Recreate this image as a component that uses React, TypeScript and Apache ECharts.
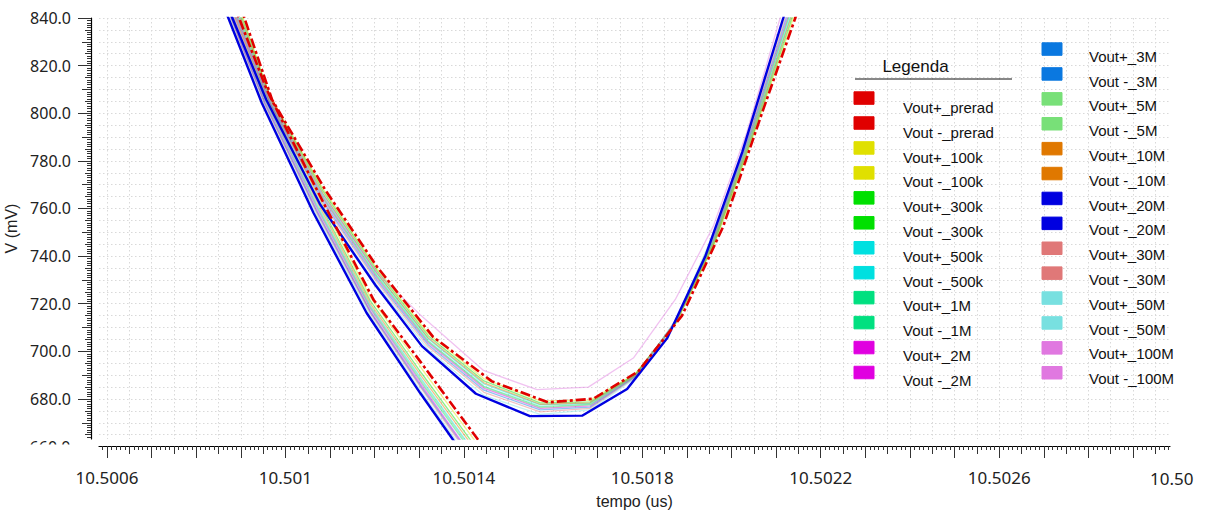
import React, { useEffect, useRef } from 'react';
import * as echarts from 'echarts';

// ---------- categories / labels ----------
const SUFFIXES = ['prerad', '100k', '300k', '500k', '1M', '2M', '3M', '5M', '10M', '20M', '30M', '50M', '100M'];
const SERIES_COLORS = ['#e00000', '#e0e000', '#00e000', '#00e0e0', '#00e080', '#e000e0', '#0a78e0', '#78e078', '#e07800', '#0000e0', '#e07878', '#78e0e0', '#e078e0'];

const X_LABELS = [10.5006, 10.501, 10.5014, 10.5018, 10.5022, 10.5026];
const Y_LABELS = [680, 700, 720, 740, 760, 780, 800, 820, 840];
const Y_MED = [670, 690, 710, 730, 750, 770, 790, 810, 830];
const X_MIN = 10.500582;
const X_MAX = 10.502983;
const Y_MIN = 663.2;
const Y_MAX = 840;

// ---------- series values (tempo in us, V in mV) ----------
const PLUS_PRERAD = [[10.500883, 854.0], [10.500908, 840.0], [10.50097, 805.7], [10.501089, 767.9], [10.501205, 735.6], [10.501331, 706.1], [10.501463, 687.4], [10.501589, 678.6], [10.50169, 680.1], [10.501791, 691.6], [10.501889, 715.0], [10.501981, 752.3], [10.502071, 801.5], [10.502143, 840.0], [10.502165, 854.0]];
const MINUS_PRERAD = [[10.500867, 854.0], [10.500896, 840.0], [10.500958, 809.9], [10.501074, 766.5], [10.501197, 721.8], [10.501302, 695.8], [10.501429, 663.6], [10.501481, 650.3]];

const PLUS_20M = [[10.500849, 854.0], [10.500881, 840.0], [10.500957, 805.7], [10.501078, 761.6], [10.501201, 728.0], [10.501306, 702.2], [10.501427, 682.2], [10.501548, 672.8], [10.501665, 673.0], [10.501766, 684.2], [10.501856, 705.6], [10.501941, 739.8], [10.502024, 783.7], [10.502116, 840.0], [10.502136, 854.0]];
const MINUS_20M = [[10.500842, 854.0], [10.500872, 840.0], [10.500947, 804.3], [10.501063, 758.1], [10.501182, 716.1], [10.501302, 682.5], [10.501373, 663.6], [10.501436, 646.5]];

const PLUS_100M = [[10.500858, 854.0], [10.500889, 840.0], [10.500965, 805.7], [10.501082, 765.8], [10.501203, 733.5], [10.501302, 715.4], [10.501444, 692.0], [10.501564, 683.9], [10.501679, 685.0], [10.50178, 697.2], [10.501874, 721.8], [10.501959, 752.5], [10.502034, 791.8], [10.502109, 840.0], [10.502127, 854.0]];
const MINUS_100M = [[10.500856, 854.0], [10.500885, 840.0], [10.500961, 803.6], [10.501073, 759.5], [10.50119, 718.3], [10.501311, 684.7], [10.501383, 664.6], [10.501448, 647.8]];

// sample times shared by the thin traces
const T_U = [10.500865, 10.500898, 10.500965, 10.501084, 10.501205, 10.50132, 10.501445, 10.501571, 10.501683, 10.501784, 10.501876, 10.501963, 10.502046, 10.502131, 10.502154];
const T_F = [10.500865, 10.500898, 10.500954, 10.501069, 10.50119, 10.501306, 10.501403, 10.50147];

const V_U_100K = [862.1, 843.8, 807.4, 768.3, 734.7, 707.5, 688.5, 679.2, 679.5, 690.5, 712.0, 745.7, 789.0, 835.7, 848.9];
const V_U_300K = [860.5, 842.5, 806.9, 767.4, 733.9, 706.6, 687.6, 678.4, 678.8, 690.3, 712.2, 746.3, 789.9, 837.4, 850.8];
const V_U_500K = [858.1, 840.5, 806.0, 765.9, 732.6, 705.3, 686.3, 677.5, 678.2, 689.9, 712.5, 747.4, 791.3, 839.9, 853.6];
const V_U_1M = [856.5, 839.2, 805.4, 764.9, 731.7, 704.4, 685.3, 676.8, 677.7, 689.7, 712.7, 748.0, 792.3, 841.6, 855.5];
const V_U_2M = [854.9, 837.8, 804.8, 764.0, 730.8, 703.6, 684.5, 676.1, 677.1, 689.5, 712.8, 748.7, 793.2, 843.2, 857.4];
const V_U_3M = [853.3, 836.5, 804.3, 763.0, 729.9, 702.8, 683.7, 675.4, 676.6, 689.3, 713.0, 749.4, 794.2, 844.9, 859.3];
const V_U_5M = [855.7, 838.6, 805.2, 764.5, 731.3, 704.0, 685.0, 676.4, 677.5, 689.6, 712.8, 748.4, 792.8, 842.4, 856.5];
const V_U_10M = [858.9, 841.2, 806.3, 766.4, 733.0, 705.7, 686.8, 677.8, 678.4, 690.0, 712.4, 747.0, 790.9, 839.0, 852.7];
const V_U_30M = [851.7, 835.3, 803.8, 762.1, 729.1, 701.9, 682.8, 674.6, 676.1, 689.0, 713.2, 750.0, 795.1, 846.6, 861.3];
const V_U_50M = [849.3, 833.4, 802.9, 760.7, 727.8, 700.7, 681.5, 673.5, 675.4, 688.7, 713.5, 751.0, 796.5, 849.1, 864.1];

const V_F_100K = [853.4, 837.2, 810.2, 766.6, 722.8, 692.6, 668.0, 650.9];
const V_F_300K = [851.7, 835.5, 808.6, 764.8, 721.3, 690.6, 665.8, 648.6];
const V_F_500K = [849.4, 833.2, 806.6, 762.3, 719.2, 688.0, 662.9, 645.6];
const V_F_1M = [848.2, 832.1, 805.5, 761.0, 718.2, 686.6, 661.4, 644.1];
const V_F_2M = [847.1, 830.9, 804.5, 759.8, 717.1, 685.3, 660.0, 642.6];
const V_F_3M = [846.5, 830.3, 804.0, 759.1, 716.6, 684.6, 659.3, 641.8];
const V_F_5M = [848.8, 832.6, 806.0, 761.6, 718.7, 687.3, 662.2, 644.8];
const V_F_10M = [850.5, 834.3, 807.6, 763.5, 720.2, 689.3, 664.4, 647.1];
const V_F_30M = [845.9, 829.8, 803.5, 758.5, 716.1, 684.0, 658.5, 641.0];
const V_F_50M = [844.8, 828.6, 802.4, 757.3, 715.0, 682.6, 657.1, 639.5];

function zip(ts: number[], vs: number[]) {
  return ts.map((t, i) => [t, vs[i]]);
}

const DATA_PLUS = [
  PLUS_PRERAD, zip(T_U, V_U_100K), zip(T_U, V_U_300K), zip(T_U, V_U_500K), zip(T_U, V_U_1M),
  zip(T_U, V_U_2M), zip(T_U, V_U_3M), zip(T_U, V_U_5M), zip(T_U, V_U_10M), PLUS_20M,
  zip(T_U, V_U_30M), zip(T_U, V_U_50M), PLUS_100M,
];
const DATA_MINUS = [
  MINUS_PRERAD, zip(T_F, V_F_100K), zip(T_F, V_F_300K), zip(T_F, V_F_500K), zip(T_F, V_F_1M),
  zip(T_F, V_F_2M), zip(T_F, V_F_3M), zip(T_F, V_F_5M), zip(T_F, V_F_10M), MINUS_20M,
  zip(T_F, V_F_30M), zip(T_F, V_F_50M), MINUS_100M,
];

function buildOption() {
  // tick value lists
  const xLong: number[] = [];
  for (let k = Math.ceil(X_MIN * 1e4 - 1e-6); k <= Math.floor(X_MAX * 1e4 + 1e-6); k++) xLong.push(k / 1e4);
  const xMed: number[] = [];
  const xGrid: number[] = [];
  for (let k = Math.ceil(X_MIN * 2e4 - 1e-6); k <= Math.floor(X_MAX * 2e4 + 1e-6); k++) {
    xGrid.push(k / 2e4);
    if (k % 2 === 1) xMed.push(k / 2e4);
  }
  const yGrid: number[] = [];
  for (let v = Math.ceil(Y_MIN / 5) * 5; v <= Y_MAX; v += 5) yGrid.push(v);

  const tickLine = { color: '#333', width: 1 };
  const gridLine = { color: '#d9d9d9', width: 1, type: [1.5, 2.5] };
  const labelFont = { fontSize: 17, fontFamily: 'Noto Sans', color: '#222' };
  const nameFont = { fontSize: 16, fontFamily: 'Liberation Sans', color: '#222' };

  const commonX = { type: 'value', min: X_MIN, max: X_MAX, position: 'bottom', offset: 7 };
  const commonY = { type: 'value', min: Y_MIN, max: Y_MAX, position: 'left', offset: 8 };

  const series: any[] = [];
  SUFFIXES.forEach((s, g) => {
    const color = SERIES_COLORS[g];
    const isRed = g === 0;
    const isBlue = g === 9;
    const isPink = g === 12;
    const lineStyle = isRed
      ? { color, width: 2.6, type: [10, 3, 3, 3] }
      : isBlue
      ? { color, width: 2.4 }
      : { color, width: 1.3, opacity: isPink ? 0.45 : 0.45 };
    const z = isRed ? 6 : isBlue ? 5 : 2;
    series.push({ name: `Vout+_${s}`, type: 'line', data: DATA_PLUS[g], symbol: 'none', lineStyle, z, color });
    series.push({ name: `Vout -_${s}`, type: 'line', data: DATA_MINUS[g], symbol: 'none', lineStyle, z, color });
  });

  // legend drawn as graphic
  const graphic: any[] = [];
  const txt = (x: number, y: number, text: string, fontSize: number, align: string, fontFamily: string, z = 10) => ({
    type: 'text', x, y, z,
    style: { text, fontSize, fontFamily, fill: '#111', align, verticalAlign: 'middle', textAlign: align, textVerticalAlign: 'middle' },
  });
  graphic.push(txt(915.5, 66, 'Legenda', 17, 'center', 'Liberation Sans'));
  graphic.push({ type: 'line', z: 10, shape: { x1: 855, y1: 79, x2: 1012, y2: 79 }, style: { stroke: '#111', lineWidth: 1 } });
  const names: string[] = [];
  const cols: string[] = [];
  SUFFIXES.forEach((s, g) => {
    names.push(`Vout+_${s}`, `Vout -_${s}`);
    cols.push(SERIES_COLORS[g], SERIES_COLORS[g]);
  });
  names.forEach((n, i) => {
    const left = i < 12;
    const r = left ? i : i - 12;
    const sx = left ? 854 : 1042;
    const tx = left ? 903 : 1089;
    const sy = left ? 91.8 + r * 24.95 : 42.8 + r * 24.9;
    const ty = left ? 107.5 + r * 24.8 : 56.2 + r * 24.8;
    graphic.push({ type: 'rect', z: 10, shape: { x: sx, y: sy, width: 20, height: 12.5 }, style: { fill: cols[i], stroke: cols[i], lineWidth: 1, opacity: 1 } });
    graphic.push(txt(tx, ty, n, 15, 'left', 'Liberation Sans'));
  });
  // partially visible bottom y label and clipped right x label
  graphic.push({ type: 'text', x: 70.5, y: 446.6, z: 20, style: { text: '660.0', fontSize: 16, fontFamily: 'Noto Sans', fill: '#222', align: 'right', verticalAlign: 'middle', textAlign: 'right', textVerticalAlign: 'middle' } });
  graphic.push({ type: 'rect', z: 21, shape: { x: 15, y: 444.6, width: 70, height: 16 }, style: { fill: '#fff' } });
  graphic.push({ type: 'text', x: 1150, y: 478, z: 20, style: { text: '10.50', fontSize: 17, fontFamily: 'Noto Sans', fill: '#222', align: 'left', verticalAlign: 'middle', textAlign: 'left', textVerticalAlign: 'middle' } });

  return {
    animation: false,
    backgroundColor: '#fff',
    grid: { left: 99, right: 37, top: 18, bottom: 79, containLabel: false, outerBoundsMode: 'none' },
    xAxis: [
      {
        ...commonX,
        minInterval: 0.00005,
        maxInterval: 0.00005,
        axisLine: { show: true, onZero: false, lineStyle: { color: '#000', width: 1.2 } },
        axisTick: { show: true, customValues: xLong, length: 12, lineStyle: tickLine },
        minorTick: { show: true, splitNumber: 5, length: 4, lineStyle: tickLine },
        axisLabel: { show: true, customValues: X_LABELS, margin: 23, formatter: (v: number) => String(Number(v.toFixed(5))), ...labelFont },
        splitLine: { show: false },
        name: 'tempo (us)',
        nameLocation: 'middle',
        nameGap: 47,
        nameTextStyle: nameFont,
      },
      {
        ...commonX,
        axisLine: { show: false, onZero: false },
        axisTick: { show: true, customValues: xMed, length: 8, lineStyle: tickLine },
        axisLabel: { show: false },
        splitLine: { show: false },
      },
      {
        ...commonX,
        minInterval: 0.00005,
        maxInterval: 0.00005,
        axisLine: { show: false, onZero: false },
        axisTick: { show: false, customValues: xGrid },
        axisLabel: { show: false },
        splitLine: { show: true, lineStyle: gridLine },
      },
    ],
    yAxis: [
      {
        ...commonY,
        minInterval: 5,
        maxInterval: 5,
        axisLine: { show: true, onZero: false, lineStyle: { color: '#000', width: 1.2 } },
        axisTick: { show: true, customValues: Y_LABELS, length: 13, lineStyle: tickLine },
        minorTick: { show: true, splitNumber: 5, length: 4, lineStyle: tickLine },
        axisLabel: { show: true, customValues: Y_LABELS, margin: 20, formatter: (v: number) => v.toFixed(1), ...labelFont, fontSize: 16 },
        splitLine: { show: false },
        name: 'V (mV)',
        nameLocation: 'middle',
        nameGap: 64,
        nameTextStyle: nameFont,
      },
      {
        ...commonY,
        axisLine: { show: false, onZero: false },
        axisTick: { show: true, customValues: Y_MED, length: 9, lineStyle: tickLine },
        axisLabel: { show: false },
        splitLine: { show: false },
      },
      {
        ...commonY,
        minInterval: 5,
        maxInterval: 5,
        axisLine: { show: false, onZero: false },
        axisTick: { show: true, customValues: yGrid, length: 6, lineStyle: tickLine },
        axisLabel: { show: false },
        splitLine: { show: true, lineStyle: gridLine },
      },
    ],
    series,
    graphic,
  };
}

export default function App() {
  const ref = useRef<HTMLDivElement>(null);
  useEffect(() => {
    if (!ref.current) return;
    const chart = echarts.init(ref.current, undefined, { renderer: 'svg' });
    chart.setOption(buildOption() as any);
    return () => chart.dispose();
  }, []);
  return (
    <div
      ref={ref}
      style={{ position: 'absolute', left: 0, top: 0, width: 1207, height: 518, background: '#fff' }}
    />
  );
}
